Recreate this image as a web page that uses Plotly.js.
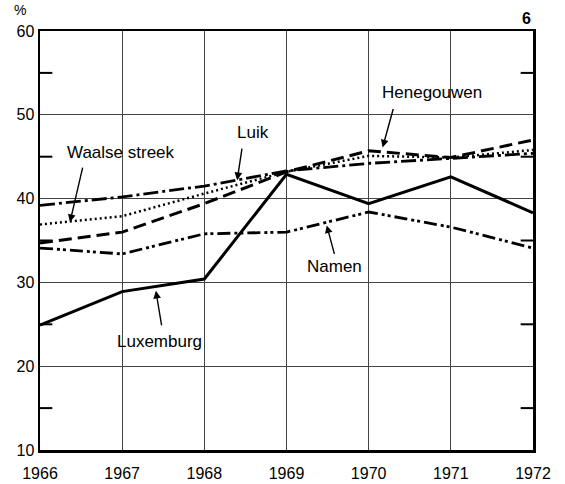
<!DOCTYPE html>
<html>
<head>
<meta charset="utf-8">
<script src="https://cdn.plot.ly/plotly-3.0.1.min.js"></script>
<style>html,body{margin:0;padding:0;background:#fff;}#chart{width:565px;height:484px;}</style>
</head>
<body>
<div id="chart"></div>
<script>
const years = [1966, 1967, 1968, 1969, 1970, 1971, 1972];
const luxemburg   = [24.9, 28.9, 30.4, 42.9, 39.4, 42.6, 38.3];
const namen       = [34.1, 33.4, 35.8, 36.0, 38.4, 36.6, 34.1];
const henegouwen  = [34.7, 36.0, 39.4, 43.2, 45.7, 44.9, 47.0];
const luik        = [39.2, 40.2, 41.5, 43.3, 44.2, 44.8, 45.4];
const waalse      = [36.9, 37.9, 40.6, 43.2, 45.1, 44.9, 45.8];
const yTicks = [10, 20, 30, 40, 50, 60];
const yMinorTicks = [15, 25, 35, 45, 55];

const seriesNames = ['Luxemburg', 'Namen', 'Henegouwen', 'Luik', 'Waalse streek'];
const seriesData = [luxemburg, namen, henegouwen, luik, waalse];
const seriesStyle = [
  {width: 3, dash: 'solid'},
  {width: 2.8, dash: '13px,4px,3px,3px,3px,4px'},
  {width: 3, dash: '13px,6px'},
  {width: 2.8, dash: '15px,4px,3px,4px'},
  {width: 2.5, dash: '2px,3px'}
];

const traces = seriesNames.map((n, i) => ({
  x: years, y: seriesData[i], name: n, type: 'scatter', mode: 'lines',
  line: {color: '#000', width: seriesStyle[i].width, dash: seriesStyle[i].dash},
  hoverinfo: 'skip'
}));

const fnt = {family: 'Liberation Sans, Arial, sans-serif', size: 16, color: '#000'};
const lblFnt = {family: 'Liberation Sans, Arial, sans-serif', size: 17, color: '#000'};

// label annotations: [text, x (left edge), y (middle)] in data coords
const labels = [
  ['Waalse streek', 1966.30, 45.5],
  ['Luik', 1968.37, 47.9],
  ['Henegouwen', 1970.14, 52.7],
  ['Namen', 1969.23, 31.9],
  ['Luxemburg', 1966.91, 22.9]
];
// arrows: head x, head y, tail offset ax, ay (px)
const arrows = [
  [1966.365, 37.2, 13, -56],
  [1968.40, 42.2, 5, -33],
  [1970.17, 46.1, 11, -40],
  [1969.49, 36.8, 8, 30],
  [1967.41, 29.0, 6, 36]
];

const annotations = [];
labels.forEach(l => annotations.push({x: l[1], y: l[2], xref: 'x', yref: 'y', text: l[0],
  showarrow: false, font: lblFnt, xanchor: 'left', yanchor: 'middle'}));
arrows.forEach(a => annotations.push({x: a[0], y: a[1], xref: 'x', yref: 'y', text: '',
  showarrow: true, ax: a[2], ay: a[3], arrowhead: 2, arrowsize: 1.1, arrowwidth: 1.4, arrowcolor: '#000'}));
annotations.push({x: -0.04, y: 1, xref: 'paper', yref: 'paper', text: '%',
  showarrow: false, xanchor: 'center', yanchor: 'bottom', yshift: 11,
  font: {family: fnt.family, size: 14, color: '#000'}});
annotations.push({x: 1, y: 1, xref: 'paper', yref: 'paper', text: '<b>6</b>', showarrow: false,
  xanchor: 'right', yanchor: 'bottom', yshift: 2, font: {family: fnt.family, size: 16, color: '#000'}});

// minor tick marks on both vertical borders, built from yMinorTicks
const tickLenX = 0.15; // in years
const shapes = [];
yMinorTicks.forEach(v => {
  shapes.push({type: 'line', xref: 'x', yref: 'y',
    x0: years[0], x1: years[0] + tickLenX, y0: v, y1: v, line: {color: '#000', width: 2}, layer: 'above'});
  shapes.push({type: 'line', xref: 'x', yref: 'y',
    x0: years[years.length - 1] - tickLenX, x1: years[years.length - 1], y0: v, y1: v,
    line: {color: '#000', width: 2}, layer: 'above'});
});

const layout = {
  width: 565, height: 484,
  margin: {l: 40, r: 32, t: 31, b: 34},
  paper_bgcolor: '#fff', plot_bgcolor: '#fff',
  showlegend: false,
  font: fnt,
  xaxis: {
    range: [1966, 1972], tickvals: years, ticktext: years.map(String),
    showgrid: true, gridcolor: '#444', gridwidth: 1,
    showline: true, linecolor: '#000', linewidth: 2.5, mirror: true,
    ticks: '', zeroline: false, tickfont: fnt, fixedrange: true, ticklabelstandoff: 7
  },
  yaxis: {
    range: [10, 60], tickvals: yTicks, ticktext: yTicks.map(String),
    showgrid: true, gridcolor: '#444', gridwidth: 1,
    showline: true, linecolor: '#000', linewidth: 2.5, mirror: true,
    ticks: '', zeroline: false, tickfont: fnt, fixedrange: true
  },
  shapes: shapes,
  annotations: annotations
};

Plotly.newPlot('chart', traces, layout, {staticPlot: true, displayModeBar: false});
</script>
</body>
</html>
